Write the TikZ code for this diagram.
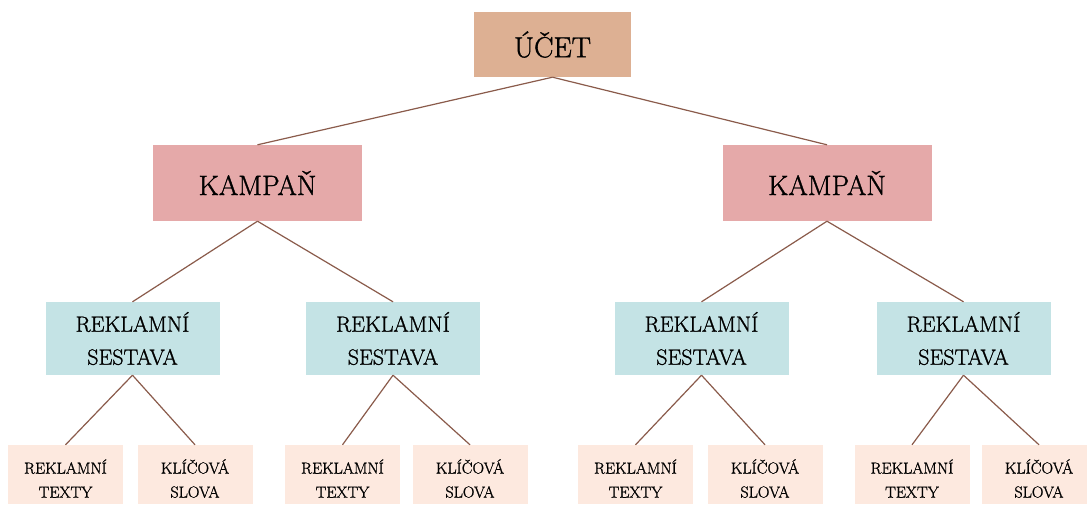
\documentclass[tikz,border=0pt]{standalone}
\usepackage{fontspec}
\newfontfamily\boxfont{Latin Modern Roman}[FakeBold=1.2]
\definecolor{ucetfill}{HTML}{DDB093}
\definecolor{kampfill}{HTML}{E5A9A9}
\definecolor{sestfill}{HTML}{C4E3E5}
\definecolor{leaffill}{HTML}{FDE9DF}
\definecolor{linkcol}{HTML}{8A5B4B}
\tikzset{
  box/.style={rectangle, inner sep=0pt, align=center, text=black},
  ucetbox/.style={box, fill=ucetfill, minimum width=157pt, minimum height=65pt, font=\boxfont\fontsize{29}{32}\selectfont},
  kampbox/.style={box, fill=kampfill, minimum width=209pt, minimum height=76pt, font=\boxfont\fontsize{28}{32}\selectfont},
  sestbox/.style={box, fill=sestfill, minimum width=174pt, minimum height=73pt, font=\boxfont\fontsize{22}{33}\selectfont},
  leafbox/.style={box, fill=leaffill, minimum width=115pt, minimum height=59pt},
  leaftext/.style={font=\boxfont\fontsize{16}{24}\selectfont, align=center, inner sep=0pt, yshift=-4pt},
  link/.style={draw=linkcol, line width=1.2pt}
}
\begin{document}
\begin{tikzpicture}[x=1pt,y=-1pt]
\clip (0,0) rectangle (1087,505);
\fill[white] (0,0) rectangle (1087,505);
% nodes
\node[ucetbox] (u) at (552.5,44.5) {ÚČET};
\node[kampbox] (k1) at (257.5,183) {KAMPAŇ};
\node[kampbox] (k2) at (827,183) {KAMPAŇ};
\node[sestbox] (s1) at (132.5,338.5) {REKLAMNÍ\\SESTAVA};
\node[sestbox] (s2) at (393,338.5) {REKLAMNÍ\\SESTAVA};
\node[sestbox] (s3) at (701.5,338.5) {REKLAMNÍ\\SESTAVA};
\node[sestbox] (s4) at (963.5,338.5) {REKLAMNÍ\\SESTAVA};
\node[leafbox, label={[leaftext]center:REKLAMNÍ\\TEXTY}] (l1) at (65.5,474.5) {};
\node[leafbox, label={[leaftext]center:KLÍČOVÁ\\SLOVA}] (l2) at (195,474.5) {};
\node[leafbox, label={[leaftext]center:REKLAMNÍ\\TEXTY}] (l3) at (342.5,474.5) {};
\node[leafbox, label={[leaftext]center:KLÍČOVÁ\\SLOVA}] (l4) at (470,474.5) {};
\node[leafbox, label={[leaftext]center:REKLAMNÍ\\TEXTY}] (l5) at (635.5,474.5) {};
\node[leafbox, label={[leaftext]center:KLÍČOVÁ\\SLOVA}] (l6) at (765,474.5) {};
\node[leafbox, label={[leaftext]center:REKLAMNÍ\\TEXTY}] (l7) at (912,474.5) {};
\node[leafbox, label={[leaftext]center:KLÍČOVÁ\\SLOVA}] (l8) at (1039,474.5) {};
% connectors
\draw[link] (u.south) -- (k1.north);
\draw[link] (u.south) -- (k2.north);
\draw[link] (k1.south) -- (s1.north);
\draw[link] (k1.south) -- (s2.north);
\draw[link] (k2.south) -- (s3.north);
\draw[link] (k2.south) -- (s4.north);
\draw[link] (s1.south) -- (l1.north);
\draw[link] (s1.south) -- (l2.north);
\draw[link] (s2.south) -- (l3.north);
\draw[link] (s2.south) -- (l4.north);
\draw[link] (s3.south) -- (l5.north);
\draw[link] (s3.south) -- (l6.north);
\draw[link] (s4.south) -- (l7.north);
\draw[link] (s4.south) -- (l8.north);
\end{tikzpicture}
\end{document}
